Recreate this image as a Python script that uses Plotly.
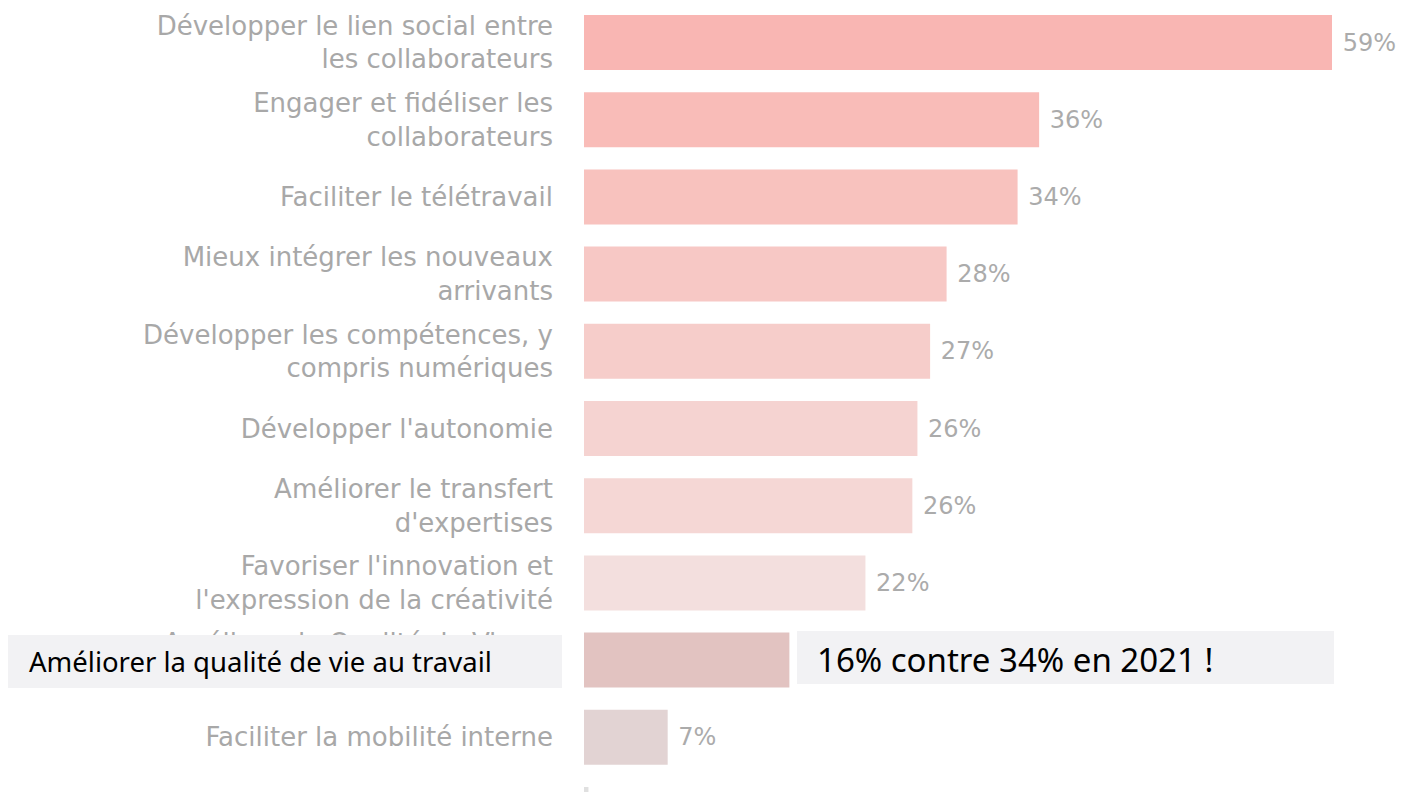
import plotly.graph_objects as go

categories = [
    "Développer le lien social entre<br>les collaborateurs",
    "Engager et fidéliser les<br>collaborateurs",
    "Faciliter le télétravail",
    "Mieux intégrer les nouveaux<br>arrivants",
    "Développer les compétences, y<br>compris numériques",
    "Développer l'autonomie",
    "Améliorer le transfert<br>d'expertises",
    "Favoriser l'innovation et<br>l'expression de la créativité",
    "Améliorer la Qualité de Vie au<br>Travail",
    "Faciliter la mobilité interne",
    "Autre",
]
values = [59.0, 35.9, 34.2, 28.6, 27.3, 26.3, 25.9, 22.2, 16.2, 6.6, 0.35]
value_labels = ["59%", "36%", "34%", "28%", "27%", "26%", "26%", "22%", "", "7%", ""]
bar_colors = ["#F9B6B3", "#F9BCB8", "#F8C2BE", "#F7C8C5", "#F6CDCA", "#F5D3D1",
              "#F5D7D5", "#F3DFDE", "#E2C3C1", "#E2D3D3", "#E0E0E0"]

highlight_label = "Améliorer la qualité de vie au travail"
highlight_note = "16% contre 34% en 2021 !"

W, H = 1404, 792
L = 584
PW = W - L
px_per_unit = (1332 - 584) / 59.0
x_max = PW / px_per_unit

fig = go.Figure(go.Bar(
    x=values, y=categories, orientation="h",
    marker=dict(color=bar_colors, line=dict(width=0)),
    text=value_labels, texttemplate=" %{text}", textposition="outside",
    textfont=dict(family="DejaVu Sans", size=24, color="#ABABAB"),
    cliponaxis=False, hoverinfo="skip",
))

spacing = 77.2
first_center = 42.5
y_top = -first_center / spacing
y_bot = (H - first_center) / spacing

fig.update_layout(
    width=W, height=H,
    margin=dict(l=L, r=0, t=0, b=0),
    paper_bgcolor="white", plot_bgcolor="white",
    bargap=1 - 55 / spacing,
    showlegend=False,
    xaxis=dict(range=[0, x_max], visible=False, fixedrange=True),
    yaxis=dict(
        type="category", categoryorder="array", categoryarray=categories,
        range=[y_bot, y_top], showgrid=False, zeroline=False, showline=False,
        ticks="", ticklabelstandoff=30,
        tickfont=dict(family="DejaVu Sans", size=26, color="#A8A8A8"),
    ),
)

def px_x(p):
    return (p - L) / PW

def px_y(p):
    return 1 - p / H

fig.add_shape(type="rect", xref="paper", yref="paper",
              x0=px_x(8), x1=px_x(562), y0=px_y(688), y1=px_y(635),
              fillcolor="#F2F2F4", line=dict(width=0), layer="above")
fig.add_shape(type="rect", xref="paper", yref="paper",
              x0=px_x(797), x1=px_x(1334), y0=px_y(684), y1=px_y(631),
              fillcolor="#F2F2F4", line=dict(width=0), layer="above")

fig.add_annotation(xref="paper", yref="paper", x=px_x(27), y=px_y(661),
                   xanchor="left", yanchor="middle", showarrow=False,
                   text=highlight_label,
                   font=dict(family="Liberation Sans Narrow, Noto Sans", size=27.5, color="#000000"))
fig.add_annotation(xref="paper", yref="paper", x=px_x(815), y=px_y(659),
                   xanchor="left", yanchor="middle", showarrow=False,
                   text=highlight_note,
                   font=dict(family="Liberation Sans Narrow, Noto Sans", size=33, color="#000000"))

fig.write_html("out.html", config={"displayModeBar": False},
               post_script="document.body.style.margin='0';document.body.style.padding='0';")
